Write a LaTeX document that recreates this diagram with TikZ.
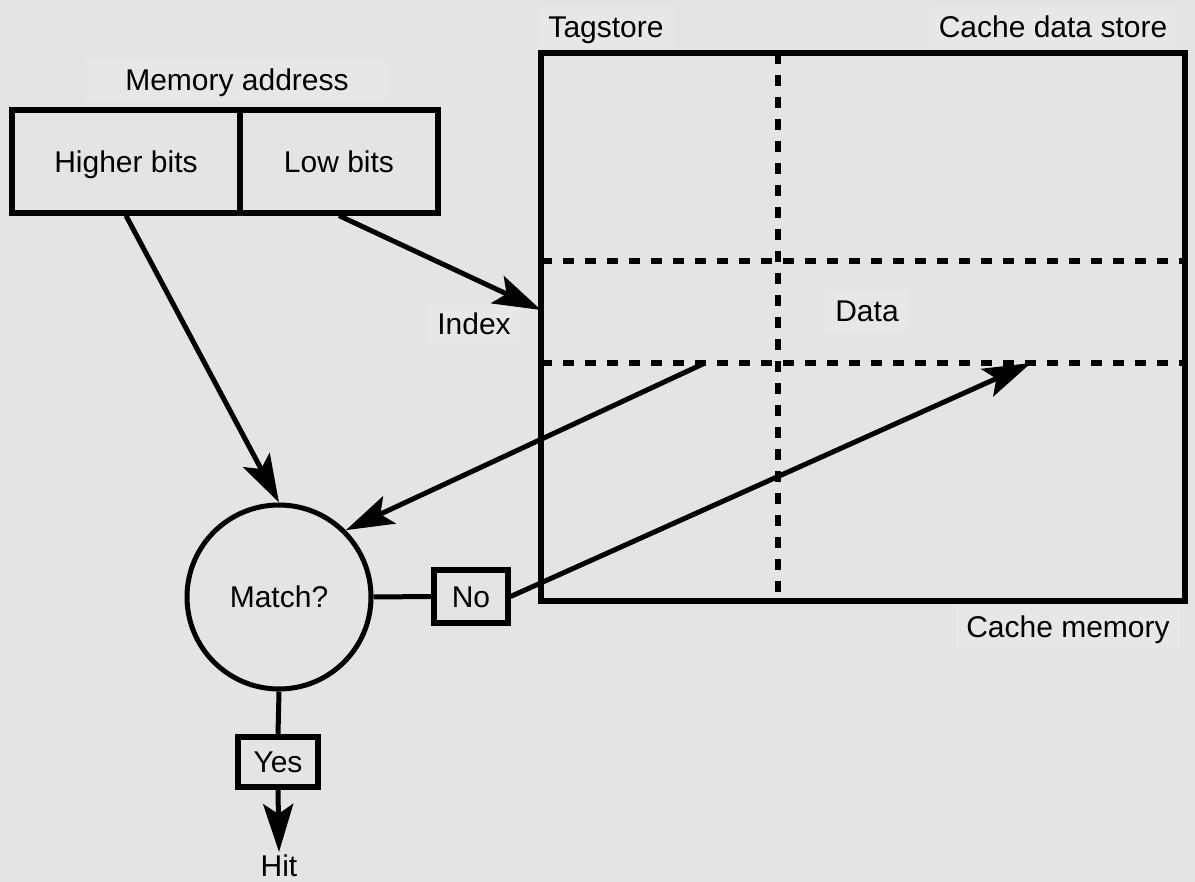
\documentclass[tikz,border=0pt]{standalone}
\usepackage{fontspec}
\setmainfont{Liberation Sans}
\usepackage{tikz}
\usetikzlibrary{arrows.meta,calc,positioning}
\tikzset{>={Stealth[length=24pt,width=15pt,inset=5pt]}}
\definecolor{bg}{RGB}{228,228,228}
\definecolor{lbl}{RGB}{231,231,231}
\tikzset{
  box/.style={draw=black,line width=2.6pt,rectangle,inner sep=0pt,text height=10.7pt,text depth=0pt},
  lab/.style={fill=lbl,inner sep=5pt,text height=10.7pt,text depth=0pt},
  wire/.style={line width=2.5pt},
  grid line/.style={line width=2.6pt,dash pattern=on 5.5pt off 5.5pt}
}

\begin{document}
\begin{tikzpicture}[x=0.5pt,y=-0.5pt,font=\fontsize{15}{18}\selectfont]
        \fill[bg] (0,0) rectangle (1195,882);
        \useasboundingbox (0,0) rectangle (1195,882);

        % memory address
        \node[lab,minimum width=150pt] (addr) at (237,80) {Memory address};
        \node[box,minimum width=114pt,minimum height=51.5pt] (higher) at (126,161.5) {Higher bits};
        \node[box,minimum width=99pt,minimum height=51.5pt] (low) at (339,161.5) {Low bits};

        % cache memory
        \node[box,minimum width=322pt,minimum height=274pt] (cache) at (863,327) {};
        \draw[grid line] (778,53) -- (778,601);
        \foreach \y in {261,363}
        {
        \draw[grid line] (541,\y) -- (1185,\y);
        }
        \node[lab] (tag) at (606,27) {Tagstore};
        \node[lab] (store) at (1053,27) {Cache data store};
        \node[lab] (mem) at (1068,627) {Cache memory};
        \node[lab] (data) at (867,311) {Data};
        \node[lab] (index) at (474,324) {Index};
        \coordinate (idx) at (541,310);
        \coordinate (tagrow) at (705,363);
        \coordinate (datarow) at (1031,363);

        % comparison
        \node[draw,circle,line width=2.5pt,minimum size=92pt,inner sep=0pt] (match) at (279,597) {Match?};
        \node[box,minimum width=37pt,minimum height=26.5pt] (no) at (471,596.5) {No};
        \node[box,minimum width=40pt,minimum height=25pt] (yes) at (278,762) {Yes};
        \node[inner sep=1pt,anchor=north] (hit) at (279,852) {Hit};

        \draw[wire,->] (higher.south) -- (match.north);
        \draw[wire,->] (low.south) -- (idx);
        \draw[wire,->] (tagrow) -- (match.45);
        \draw[wire] (match.east) -- (no.west);
        \draw[wire,->] (no.east) -- (datarow);
        \draw[wire] (match.south) -- (yes.north);
        \draw[wire,->] (yes.south) -- (hit.north);

        \end{tikzpicture}
\end{document}
